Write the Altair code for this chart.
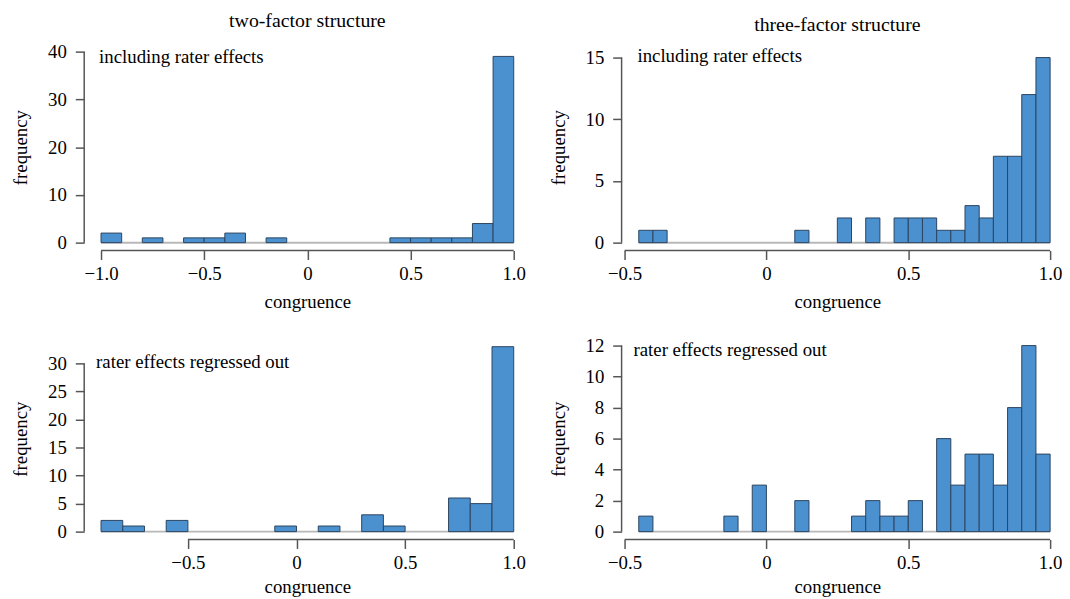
import altair as alt
import pandas as pd

FONT = "Liberation Serif"
FILL = "#4b90cf"
EDGE = "#2c4560"
AXC = "#555555"

# ---- data (bin left edges start, bin width, counts) ----
p1_start, p1_width = -1.0, 0.1
p1_counts = [2, 0, 1, 0, 1, 1, 2, 0, 1, 0, 0, 0, 0, 0, 1, 1, 1, 1, 4, 39]

p2_start, p2_width = -0.45, 0.05
p2_counts = [1, 1, 0, 0, 0, 0, 0, 0, 0, 0, 0, 1, 0, 0, 2, 0, 2, 0, 2, 2,
             2, 1, 1, 3, 2, 7, 7, 12, 15]

p3_start, p3_width = -0.9, 0.1
p3_counts = [2, 1, 0, 2, 0, 0, 0, 0, 1, 0, 1, 0, 3, 1, 0, 0, 6, 5, 33]

p4_start, p4_width = -0.45, 0.05
p4_counts = [1, 0, 0, 0, 0, 0, 1, 0, 3, 0, 0, 2, 0, 0, 0, 1, 2, 1, 1, 2,
             0, 6, 3, 5, 5, 3, 8, 12, 5]

x_ticks_wide = [-1.0, -0.5, 0.0, 0.5, 1.0]
x_ticks_half = [-0.5, 0.0, 0.5, 1.0]
p1_yticks = [0, 10, 20, 30, 40]
p2_yticks = [0, 5, 10, 15]
p3_yticks = [0, 5, 10, 15, 20, 25, 30]
p4_yticks = [0, 2, 4, 6, 8, 10, 12]

col_titles = ["two-factor structure", "three-factor structure"]
row_labels = ["including rater effects", "rater effects regressed out"]


def panel(start, width, counts, xdom, xticks, ydom, yticks, w, h, yoff,
          label, lx, ly, title=None, xtp=10):
    n = len(counts)
    df = pd.DataFrame({
        "x0": [round(start + i * width, 4) for i in range(n)],
        "x1": [round(start + (i + 1) * width, 4) for i in range(n)],
        "c": counts,
    })
    bars_df = df[df.c > 0]
    xs = alt.Scale(domain=xdom, nice=False, zero=False)
    ys = alt.Scale(domain=ydom, nice=False, zero=False)
    xaxis = alt.Axis(values=xticks, domain=False, offset=8, tickSize=9,
                     labelFlush=False, grid=False, labelPadding=5,
                     labelExpr="datum.value == 0 ? '0' : replace(format(datum.value, '.1f'), '-', '\u2212')",
                     title="congruence", titlePadding=xtp)
    yaxis = alt.Axis(values=yticks, domain=False, offset=yoff, tickSize=9,
                     labelPadding=9, grid=False, title="frequency", titlePadding=17)

    base = alt.Chart(pd.DataFrame({"a": [df.x0.min()], "b": [df.x1.max()], "y": [0]})).mark_rule(
        color="#b8b8b8", strokeWidth=2).encode(
        x=alt.X("a:Q", scale=xs, axis=xaxis), x2="b",
        y=alt.Y("y:Q", scale=ys, axis=yaxis))
    rects = alt.Chart(bars_df).mark_rect(fill=FILL, stroke=EDGE, strokeWidth=1).encode(
        x=alt.X("x0:Q", scale=xs, axis=xaxis), x2="x1",
        y=alt.Y("c:Q", scale=ys, axis=yaxis), y2=alt.datum(0))
    yline = alt.Chart(pd.DataFrame({"a": [yticks[0]], "b": [yticks[-1]]})).mark_rule(
        color=AXC, strokeWidth=1.5).encode(
        x=alt.value(-yoff), y=alt.Y("a:Q", scale=ys, axis=yaxis), y2="b")
    xline = alt.Chart(pd.DataFrame({"a": [xticks[0]], "b": [xticks[-1]]})).mark_rule(
        color=AXC, strokeWidth=1.5).encode(
        y=alt.value(h + 8), x=alt.X("a:Q", scale=xs, axis=xaxis), x2="b")
    text = alt.Chart(pd.DataFrame({"t": [label]})).mark_text(
        align="left", baseline="middle", fontSize=19, color="black").encode(
        x=alt.value(lx), y=alt.value(ly), text="t:N")
    props = dict(width=w, height=h)
    if title:
        props["title"] = alt.TitleParams(title, anchor="middle", offset=12)
    return alt.layer(base, rects, yline, xline, text).properties(**props)


p1 = panel(p1_start, p1_width, p1_counts, [-1.0, 1.0], x_ticks_wide, [0, 40], p1_yticks,
           417, 193, 17, row_labels[0], -2, 5, col_titles[0])
p2 = panel(p2_start, p2_width, p2_counts, [-0.5, 1.0], x_ticks_half, [0, 15.48], p2_yticks,
           430, 193, 3, row_labels[0], 13, 4, col_titles[1])
p3 = panel(p3_start, p3_width, p3_counts, [-0.9, 1.0], x_ticks_half, [0, 33.2], p3_yticks,
           417, 188, 17, row_labels[1], -5, 17, xtp=6)
p4 = panel(p4_start, p4_width, p4_counts, [-0.5, 1.0], x_ticks_half, [0, 12], p4_yticks,
           430, 188, 3, row_labels[1], 9, 5, xtp=6)

chart = alt.vconcat(
    alt.hconcat(p1, p2, spacing=24),
    alt.hconcat(p3, p4, spacing=24),
    spacing=25,
).properties(
    padding={"left": 4, "top": 0, "right": 0, "bottom": 0},
    background="white",
).configure_view(
    stroke=None
).configure_axis(
    labelFont=FONT, labelFontSize=19, labelColor="black",
    titleFont=FONT, titleFontSize=19, titleFontWeight="normal", titleColor="black",
    tickColor=AXC, tickWidth=1.5,
).configure_title(
    font=FONT, fontSize=20, fontWeight="normal", color="black"
).configure_text(
    font=FONT
)

chart.save("out.html", embed_options={"renderer": "svg", "actions": False})
